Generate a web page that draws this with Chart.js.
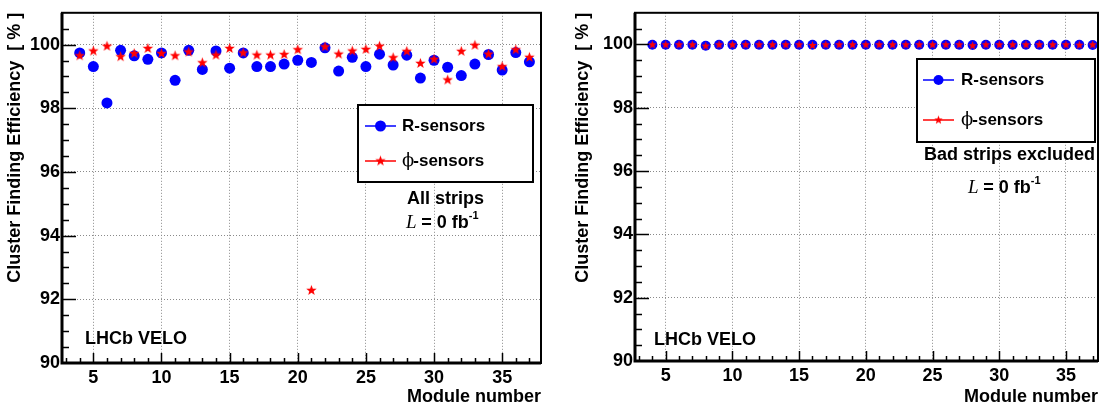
<!DOCTYPE html>
<html lang="en">
<head>
<meta charset="UTF-8">
<title>VELO cluster finding efficiency</title>
<script src="https://cdn.jsdelivr.net/npm/chart.js"></script>
<style>
    body { margin: 0; background: #ffffff; }
    .wrap { position: relative; width: 1104px; height: 410px; }
    .panel { position: absolute; top: 0; width: 552px; height: 410px; }
    #leftPanel { left: 0; }
    #rightPanel { left: 552px; }
</style>
</head>
<body>
<div class="wrap">
    <div class="panel" id="leftPanel"><canvas id="allStrips"></canvas></div>
    <div class="panel" id="rightPanel"><canvas id="badExcluded"></canvas></div>
</div>
<script>
// module numbers on the x axis
const modules = [4, 5, 6, 7, 8, 9, 10, 11, 12, 13, 14, 15, 16, 17, 18, 19, 20,
                 21, 22, 23, 24, 25, 26, 27, 28, 29, 30, 31, 32, 33, 34, 35, 36, 37];

// left panel: all strips
const rAll   = [99.74, 99.31, 98.17, 99.82, 99.65, 99.54, 99.74, 98.88, 99.82, 99.22, 99.80, 99.26, 99.74, 99.31, 99.31, 99.39, 99.51,
                99.44, 99.90, 99.17, 99.60, 99.31, 99.70, 99.36, 99.67, 98.95, 99.51, 99.29, 99.03, 99.39, 99.69, 99.20, 99.75, 99.46];
const phiAll = [99.65, 99.80, 99.95, 99.62, 99.72, 99.88, 99.72, 99.65, 99.77, 99.43, 99.67, 99.88, 99.74, 99.67, 99.67, 99.69, 99.84,
                92.28, 99.93, 99.70, 99.80, 99.85, 99.95, 99.59, 99.79, 99.41, 99.54, 98.89, 99.79, 99.98, 99.70, 99.31, 99.84, 99.60];

// right panel: bad strips excluded
const rExcl   = [99.99, 99.99, 99.99, 99.99, 99.96, 99.99, 99.99, 99.99, 99.99, 99.99, 99.99, 99.99, 99.99, 99.99, 99.99, 99.99, 99.99,
                 99.99, 99.99, 99.99, 99.99, 99.99, 99.99, 99.99, 99.98, 99.99, 99.99, 99.99, 99.99, 99.99, 99.99, 99.99, 99.99, 99.98];
const phiExcl = [99.99, 99.99, 99.99, 99.99, 99.95, 99.99, 99.99, 99.99, 99.99, 99.99, 99.99, 99.99, 99.97, 99.99, 99.99, 99.99, 99.99,
                 99.99, 99.99, 99.99, 99.99, 99.99, 99.99, 99.99, 99.96, 99.99, 99.99, 99.99, 99.99, 99.99, 99.99, 99.99, 99.98, 99.99];

const xTickValues = [5, 10, 15, 20, 25, 30, 35];
const yTickValues = [90, 92, 94, 96, 98, 100];

const FONT = '"Liberation Sans", Arial, sans-serif';
const BLUE = '#0000ff';
const RED = '#ff0000';

// filled five-point star used as ROOT-like marker
function starImage(r, color) {
    const c = document.createElement('canvas');
    const s = Math.ceil(r * 2) + 2;
    c.width = s; c.height = s;
    const g = c.getContext('2d');
    g.beginPath();
    for (let k = 0; k < 10; k++) {
        const rad = k % 2 ? r * 0.42 : r;
        const a = -Math.PI / 2 + k * Math.PI / 5;
        g.lineTo(s / 2 + rad * Math.cos(a), s / 2 + rad * Math.sin(a));
    }
    g.closePath();
    g.fillStyle = color;
    g.fill();
    return c;
}

function toPoints(arr) {
    return modules.map((m, i) => ({ x: m, y: arr[i] }));
}

// frame, inward ticks, legend box and labels
function rootDecor(opts) {
    return {
        id: 'rootDecor',
        afterDraw(chart) {
            const ctx = chart.ctx;
            const a = chart.chartArea;
            const xs = chart.scales.x, ys = chart.scales.y;
            ctx.save();
            ctx.strokeStyle = '#000';
            // y ticks (inward from the left edge)
            ctx.lineWidth = 1.5;
            for (let v = 90.5; v < 101; v += 0.5) {
                const py = Math.round(ys.getPixelForValue(v)) + 0.5;
                const len = yTickValues.includes(v) ? 14 : 7;
                ctx.beginPath(); ctx.moveTo(a.left, py); ctx.lineTo(a.left + len, py); ctx.stroke();
            }
            // x ticks (inward from the bottom edge)
            for (let v = 3; v <= 37; v++) {
                const px = Math.round(xs.getPixelForValue(v)) + 0.5;
                const len = xTickValues.includes(v) ? 10 : 5;
                ctx.beginPath(); ctx.moveTo(px, a.bottom); ctx.lineTo(px, a.bottom - len); ctx.stroke();
            }
            // frame
            ctx.lineWidth = 2;
            ctx.strokeRect(a.left, a.top, a.right - a.left, a.bottom - a.top);
            ctx.lineWidth = 3;
            ctx.beginPath(); ctx.moveTo(a.left, a.top); ctx.lineTo(a.left, a.bottom); ctx.lineTo(a.right, a.bottom); ctx.stroke();

            // legend box
            const L = opts.legend;
            ctx.fillStyle = '#fff';
            ctx.fillRect(L.x0, L.y0, L.x1 - L.x0, L.y1 - L.y0);
            ctx.lineWidth = 2;
            ctx.strokeRect(L.x0, L.y0, L.x1 - L.x0, L.y1 - L.y0);
            ctx.lineWidth = 1.5;
            ctx.strokeStyle = BLUE;
            ctx.beginPath(); ctx.moveTo(L.lx0, L.y1st); ctx.lineTo(L.lx1, L.y1st); ctx.stroke();
            ctx.fillStyle = BLUE;
            ctx.beginPath(); ctx.arc((L.lx0 + L.lx1) / 2, L.y1st, opts.dot, 0, Math.PI * 2); ctx.fill();
            ctx.strokeStyle = RED;
            ctx.beginPath(); ctx.moveTo(L.lx0, L.y2nd); ctx.lineTo(L.lx1, L.y2nd); ctx.stroke();
            const st = opts.star;
            ctx.drawImage(st, (L.lx0 + L.lx1) / 2 - st.width / 2, L.y2nd - st.height / 2);

            ctx.fillStyle = '#000';
            ctx.textBaseline = 'middle';
            ctx.textAlign = 'left';
            ctx.font = 'bold 17px ' + FONT;
            ctx.fillText('R-sensors', L.tx, L.y1st);
            ctx.font = '18px "DejaVu Serif", serif';
            ctx.fillText('ϕ', L.tx, L.y2nd);
            const phiW = ctx.measureText('ϕ').width;
            ctx.font = 'bold 17px ' + FONT;
            ctx.fillText('-sensors', L.tx + phiW - 1, L.y2nd);

            // text labels
            ctx.font = 'bold 18px ' + FONT;
            ctx.textAlign = 'right';
            ctx.fillText(opts.note.text, opts.note.x, opts.note.y);
            ctx.textAlign = 'left';
            ctx.fillText('LHCb VELO', opts.velo.x, opts.velo.y);

            // L = 0 fb^-1
            let x = opts.lumi.x;
            const y = opts.lumi.y;
            ctx.font = 'italic 19px "Liberation Serif", serif';
            ctx.fillText('L', x, y);
            x += ctx.measureText('L ').width;
            ctx.font = 'bold 18px ' + FONT;
            ctx.fillText('= 0 fb', x, y);
            x += ctx.measureText('= 0 fb').width;
            ctx.font = 'bold 11px ' + FONT;
            ctx.fillText('-1', x, y - 7);
            ctx.restore();
        }
    };
}

function makeChart(id, rData, phiData, o) {
    const star = starImage(o.starR, RED);
    const tickFont = { family: FONT, size: 18, weight: 'bold' };
    return new Chart(document.getElementById(id), {
        type: 'scatter',
        data: {
            datasets: [
                { label: 'ϕ-sensors', data: toPoints(phiData), pointStyle: star, pointRadius: o.starR, order: 0 },
                { label: 'R-sensors', data: toPoints(rData), pointStyle: 'circle', pointRadius: o.dot,
                  backgroundColor: BLUE, borderColor: BLUE, borderWidth: 0, order: 1 }
            ]
        },
        options: {
            responsive: true,
            maintainAspectRatio: false,
            animation: false,
            layout: { padding: { left: 0, right: o.padRight, top: 9, bottom: 0 } },
            plugins: { legend: { display: false }, tooltip: { enabled: false } },
            scales: {
                x: {
                    type: 'linear', min: 2.7, max: o.xMax,
                    afterBuildTicks: s => { s.ticks = xTickValues.map(v => ({ value: v })); },
                    afterFit: s => { s.height = o.xHeight; },
                    grid: { color: '#8a8a8a', lineWidth: 1, drawTicks: false },
                    border: { display: false, dash: [1, 2] },
                    ticks: { font: tickFont, color: '#000', padding: 4, maxRotation: 0, autoSkip: false },
                    title: { display: true, text: 'Module number', align: 'end', color: '#000',
                             font: { family: FONT, size: 18, weight: 'bold' }, padding: { top: 0, bottom: 2 } }
                },
                y: {
                    type: 'linear', min: 90, max: 101,
                    afterBuildTicks: s => { s.ticks = yTickValues.map(v => ({ value: v })); },
                    afterFit: s => { s.width = o.yWidth; },
                    grid: { color: '#8a8a8a', lineWidth: 1, drawTicks: false },
                    border: { display: false, dash: [1, 2] },
                    ticks: { font: tickFont, color: '#000', padding: 2 },
                    title: { display: true, text: 'Cluster Finding Efficiency  [ % ]', align: 'end', color: '#000',
                             font: { family: FONT, size: 18, weight: 'bold' }, padding: { top: o.titlePad, bottom: 0 } }
                }
            }
        },
        plugins: [rootDecor({
            legend: o.legend, dot: o.dot, star: star,
            note: o.note, velo: o.velo, lumi: o.lumi
        })]
    });
}

makeChart('allStrips', rAll, phiAll, {
    dot: 5.5, starR: 5.5, padRight: 11, xMax: 37.85, xHeight: 47, yWidth: 62, titlePad: 4,
    legend: { x0: 358, y0: 105, x1: 533, y1: 182, lx0: 365, lx1: 396, tx: 402, y1st: 126, y2nd: 161 },
    note: { text: 'All strips', x: 484, y: 199 },
    lumi: { x: 406, y: 223 },
    velo: { x: 85, y: 339 }
});

makeChart('badExcluded', rExcl, phiExcl, {
    dot: 5, starR: 4.5, padRight: 6, xMax: 37.4, xHeight: 49, yWidth: 83, titlePad: 20,
    legend: { x0: 365, y0: 59, x1: 543, y1: 142, lx0: 371, lx1: 402, tx: 409, y1st: 80, y2nd: 120 },
    note: { text: 'Bad strips excluded', x: 543, y: 155 },
    lumi: { x: 416, y: 188 },
    velo: { x: 102, y: 340 }
});
</script>
</body>
</html>
